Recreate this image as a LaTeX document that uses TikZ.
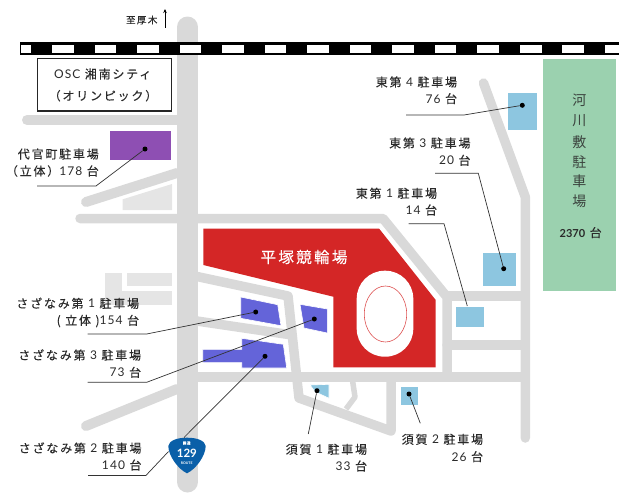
\documentclass[tikz,border=0pt]{standalone}
\usetikzlibrary{arrows.meta}
\usepackage{fontspec}
\setmainfont[LetterSpace=15,FakeBold=0.12]{Noto Sans CJK JP}
\newfontfamily\riverf[LetterSpace=0]{Noto Sans CJK JP}
\newfontfamily\latinf[LetterSpace=9]{Lato}
\newfontfamily\latinb[LetterSpace=0]{Lato}
\tikzset{
 road/.style={draw=roadc,line width=9.5pt,line cap=round,line join=round},
 lite/.style={fill=litec,draw=none},
 lot/.style={draw=white,line width=.6pt},
 lead/.style={draw=leadc,line width=.7pt},
 lab/.style={anchor=east,inner sep=0pt,font=\fontsize{12}{14}\selectfont,text=labc},
 river/.style={anchor=center,inner sep=0pt,font=\riverf\fontsize{14}{16}\selectfont,text=labc!85!grn},
 dotm/.style={circle,fill=black,inner sep=0pt,minimum size=5pt},
}
\definecolor{roadc}{HTML}{D9D9D9}
\definecolor{litec}{HTML}{E5E5E5}
\definecolor{redc}{HTML}{D42626}
\definecolor{purp}{HTML}{8E4FB3}
\definecolor{lblue}{HTML}{8DC6E0}
\definecolor{viol}{HTML}{6464D9}
\definecolor{grn}{HTML}{9BD1AF}
\definecolor{leadc}{HTML}{333333}
\definecolor{labc}{HTML}{2A2A2A}
\definecolor{shield}{HTML}{0A5FA8}
\begin{document}
\begin{tikzpicture}[x=1pt,y=-1pt]
\useasboundingbox (0,0) rectangle (619,493);
% roads
\draw[road,line width=21pt] (187.5,27) -- (187.5,482);
\draw[road,line width=10pt] (27,120) -- (180,120);
\draw[road,line width=10pt] (86,202) -- (177,173);
\draw[road,line width=10pt] (86,426) -- (177,389);
\draw[road] (80,218.5) -- (383,218.5) -- (447,297) -- (447,377);
\draw[road] (447,296) -- (525,296);
\draw[road] (447,345) -- (525,345);
\draw[road] (483.5,83) -- (525.3,197) -- (525.3,438);
\draw[road] (190,275) -- (288,296) -- (299,398) -- (391,431) -- (391,377);
\draw[road] (190,320) -- (292,335);
\draw[road] (190,377) -- (525,377);
\draw[road,line width=5.5pt,line cap=butt] (352,377) -- (355,397) -- (346,409);
% light blocks
\fill[lite] (122.7,199.3) -- (172,184) -- (172,210) -- (122.7,210) -- cycle;
\fill[lite] (105,272.7) rectangle (121.7,305);
\fill[lite] (126.7,272.7) rectangle (172.3,286);
\fill[lite] (105,290.7) rectangle (172.3,305);
% railway
\fill[black] (20,42) rectangle (619,55);
\foreach \xa in {52,94.5,137,179.5,222,264.5,307,349.5,392,434.5,477.3,520,562.3}{
  \fill[white] (\xa,44.5) rectangle ++(21.5,8);
}
\fill[white] (20.7,44.5) rectangle (30.5,52.5);
\fill[white] (605,44.5) rectangle (619,52.5);
% venue
\fill[redc] (203.3,228.5) -- (379,228.5) -- (435.7,300) -- (435.7,367.3) -- (333.3,367.3) -- (333.3,296.7) -- (203.3,265) -- cycle;
\fill[white,rounded corners=28pt] (356.7,270.7) rectangle (413.3,356.7);
\draw[redc!80,line width=.6pt] (385.5,314) ellipse [x radius=21.2pt,y radius=28pt];
\node[inner sep=0pt,text=white,font=\fontsize{15.5}{17}\selectfont] (venue) at (304,257) {平塚競輪場};
% box
\node[draw=black!85,line width=1.2pt,minimum width=134pt,minimum height=52.7pt,inner sep=0pt,fill=white] (osc) at (104.3,84.6) {};
\node[lab,anchor=center] (osca) at (102.7,74) {{\latinf OSC} 湘南シティ};
\node[lab,anchor=center] (oscb) at (103,95.7) {（オリンピック）};
% north
\node[lab,anchor=center,font=\fontsize{9.5}{11}\selectfont] (atsugi) at (141.7,20) {至厚木};
\coordinate (na) at (165,27.5);
\coordinate (nb) at (165,9);
\draw[-{Stealth[length=4pt,width=3.5pt]},black,line width=.6pt] (na) -- (nb);
% lots
\fill[purp,lot] (109.3,130.7) rectangle (171.3,160.7);
\fill[lblue,lot] (507.7,92.3) rectangle (537,130.3);
\fill[lblue,lot] (482.7,252.7) rectangle (516,286);
\fill[lblue,lot] (455.7,306) rectangle (484.7,327);
\fill[lblue,lot] (400,386) rectangle (418.3,405);
\fill[lblue,lot] (310,385) -- (329,384.3) -- (329,398.3) -- (315,391.7) -- cycle;
\fill[viol,lot] (240.7,297) -- (277.7,304.7) -- (281,325.7) -- (240.7,318.3) -- cycle;
\fill[viol,lot] (300,304.3) -- (327.3,309) -- (327.3,333) -- (304,328) -- cycle;
\fill[viol,lot] (202.7,349.3) -- (241.7,349.3) -- (241.7,338.3) -- (283.3,344.3) -- (286.7,368) -- (241.7,368) -- (241.7,362.7) -- (202.7,362.7) -- cycle;
\fill[grn,lot] (542,58) rectangle (616.3,291);
% shield
\fill[shield] (168.3,446) .. controls (169,441) and (176,437.7) .. (187,437.7) .. controls (198,437.7) and (205,441) .. (205.7,446) .. controls (205.5,456) and (196,469) .. (187,473.3) .. controls (178,469) and (168.5,456) .. (168.3,446) -- cycle;
\node[inner sep=0pt,text=white,font=\fontsize{3.5}{4}\selectfont] (kd) at (186.7,443) {国道};
\node[inner sep=0pt,text=white,font=\latinb\bfseries\fontsize{11.5}{12}\selectfont] (rn) at (186.9,453) {129};
\node[inner sep=0pt,text=white,font=\latinb\bfseries\fontsize{3.5}{4}\selectfont] (rt) at (186.7,463) {ROUTE};
% leaders
\node[dotm] (d1) at (145,149) {};
\coordinate (e1a) at (96,186); \coordinate (e1b) at (37,186);
\draw[lead] (d1) -- (e1a) -- (e1b);
\node[dotm] (d2) at (522.3,105.3) {};
\coordinate (e2a) at (464,115); \coordinate (e2b) at (406,115);
\draw[lead] (d2) -- (e2a) -- (e2b);
\node[dotm] (d3) at (503.7,268.7) {};
\coordinate (e3a) at (478.3,173.3); \coordinate (e3b) at (435,173.3);
\draw[lead] (d3) -- (e3a) -- (e3b);
\coordinate (d4) at (467.3,306);
\coordinate (e4a) at (444,223.7); \coordinate (e4b) at (408.7,223.7);
\draw[lead] (d4) -- (e4a) -- (e4b);
\node[dotm] (d5) at (255.7,312) {};
\coordinate (e5a) at (146.7,334); \coordinate (e5b) at (87.7,334);
\draw[lead] (d5) -- (e5a) -- (e5b);
\node[dotm] (d6) at (314.3,319) {};
\coordinate (e6a) at (146.7,382.3); \coordinate (e6b) at (87.7,382.3);
\draw[lead] (d6) -- (e6a) -- (e6b);
\node[dotm] (d7) at (265,356.3) {};
\coordinate (e7a) at (145.7,475.7); \coordinate (e7b) at (87.7,475.7);
\draw[lead] (e7a) -- (e7b);
\draw[lead] (e7a) -- (168.5,451.5);
\draw[lead] (184,437.5) -- (d7);
\node[dotm] (d8) at (317,390.7) {};
\coordinate (e8) at (308.3,434);
\draw[lead] (d8) -- (e8);
\node[dotm] (d9) at (409,394) {};
\coordinate (e9) at (420.3,423.3);
\draw[lead] (d9) -- (e9);
% labels
\node[lab] (t1a) at (99,154) {代官町駐車場};
\node[lab] (t1b) at (99,171) {（立体）{\latinf 178} 台};
\node[lab] (t2a) at (457.3,82) {東第 {\latinf 4} 駐車場};
\node[lab] (t2b) at (457.3,98.7) {{\latinf 76} 台};
\node[lab] (t3a) at (470.7,143) {東第 {\latinf 3} 駐車場};
\node[lab] (t3b) at (470.7,160.3) {{\latinf 20} 台};
\node[lab] (t4a) at (437.3,193.3) {東第 {\latinf 1} 駐車場};
\node[lab] (t4b) at (437.3,210) {{\latinf 14} 台};
\node[lab] (t5a) at (139.3,303.3) {さざなみ第 {\latinf 1} 駐車場};
\node[lab] (t5b) at (139.3,321) {( 立体 ){\latinf 154} 台};
\node[lab] (t6a) at (141.3,355) {さざなみ第 {\latinf 3} 駐車場};
\node[lab] (t6b) at (141.3,372.3) {{\latinf 73} 台};
\node[lab] (t7a) at (141.7,448) {さざなみ第 {\latinf 2} 駐車場};
\node[lab] (t7b) at (141.7,465) {{\latinf 140} 台};
\node[lab] (t8a) at (367.3,449.3) {須賀 {\latinf 1} 駐車場};
\node[lab] (t8b) at (367.3,466) {{\latinf 33} 台};
\node[lab] (t9a) at (483.3,439.3) {須賀 {\latinf 2} 駐車場};
\node[lab] (t9b) at (483.3,456.7) {{\latinf 26} 台};
\node[river] (r1) at (579.3,100.7) {河};
\node[river] (r2) at (579.3,120.7) {川};
\node[river] (r3) at (579.3,141.7) {敷};
\node[river] (r4) at (579.3,161.7) {駐};
\node[river] (r5) at (579.3,181.7) {車};
\node[river] (r6) at (579.3,201) {場};
\node[lab,anchor=center] (r7) at (580.7,232.7) {{\latinb\bfseries\fontsize{11}{12}\selectfont 2370} 台};
\end{tikzpicture}
\end{document}
